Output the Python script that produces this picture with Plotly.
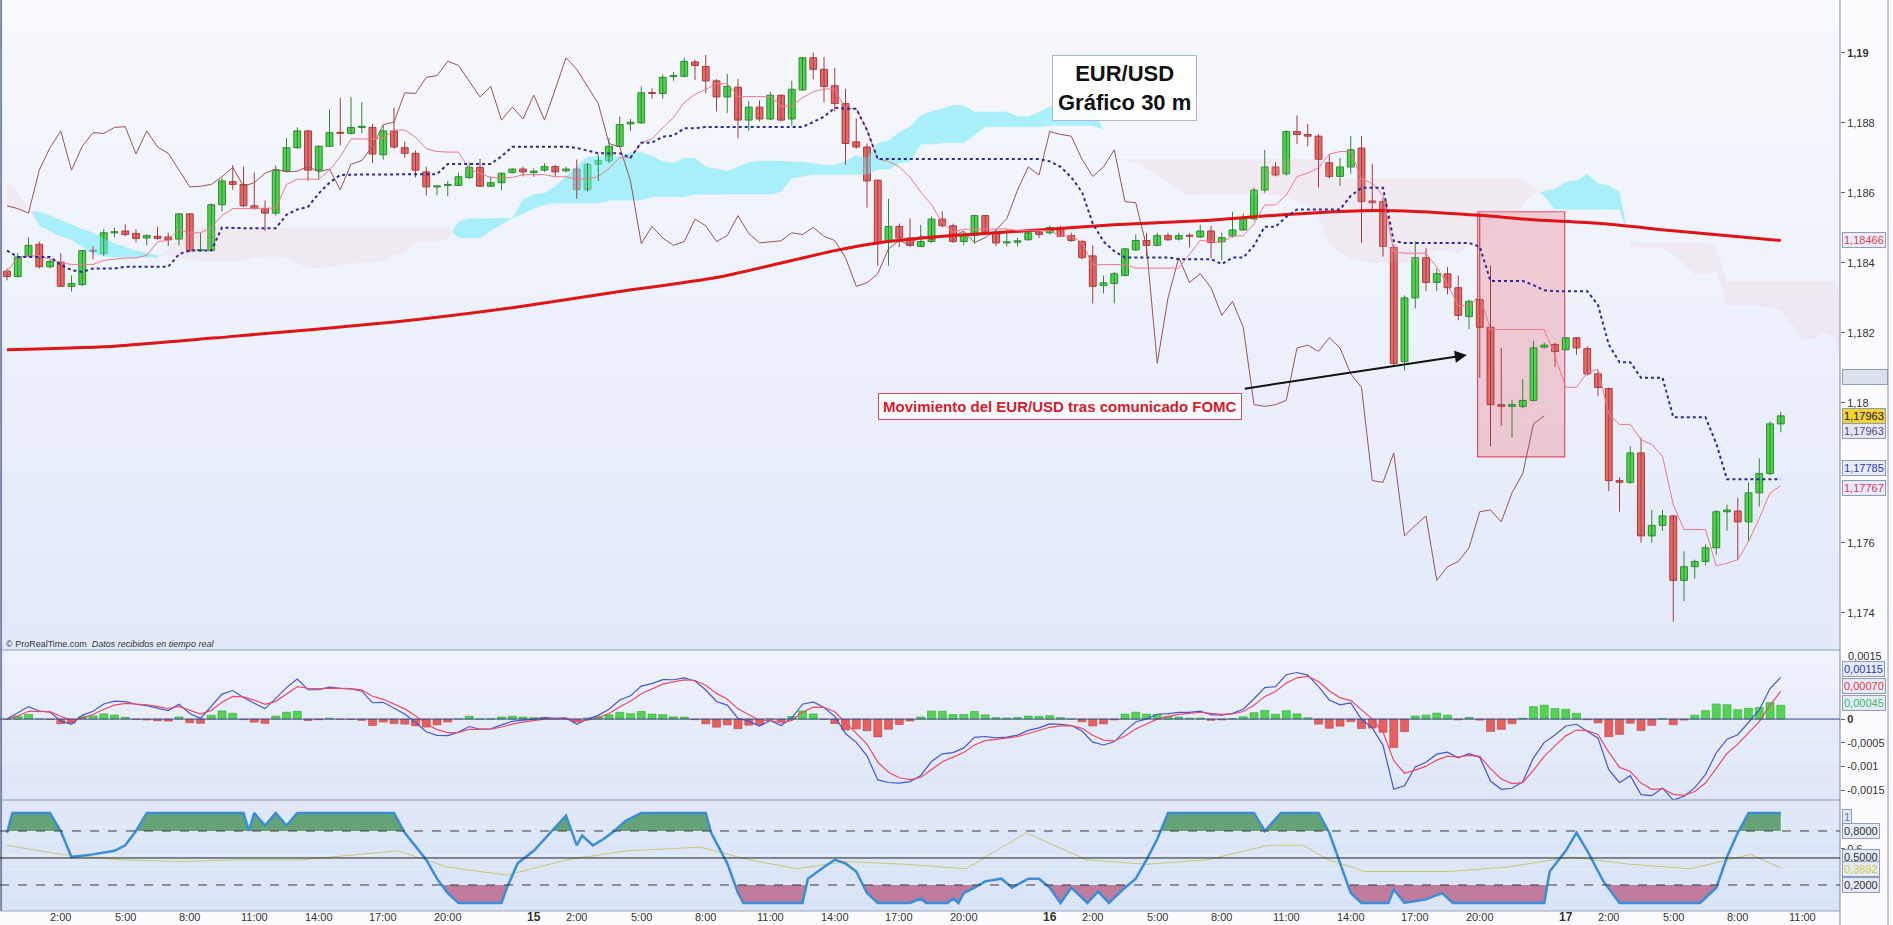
import numpy as np
import pandas as pd
import plotly.graph_objects as go

# ---------------- data (EUR/USD, 30 min candles) ----------------
T0 = pd.Timestamp("2020-09-13 23:30")
STEP = pd.Timedelta(minutes=30)

opens = [1.18376,1.18361,1.18420,1.18453,1.18389,1.18402,1.18333,1.18338,1.18435,1.18427,
1.18486,1.18491,1.18484,1.18471,1.18476,1.18474,1.18468,1.18540,1.18435,1.18435,
1.18566,1.18632,1.18624,1.18563,1.18555,1.18542,1.18662,1.18729,1.18777,1.18665,
1.18733,1.18772,1.18770,1.18787,1.18787,1.18709,1.18777,1.18729,1.18713,1.18660,
1.18617,1.18621,1.18621,1.18644,1.18673,1.18619,1.18629,1.18658,1.18668,1.18658,
1.18665,1.18675,1.18663,1.18668,1.18609,1.18682,1.18692,1.18733,1.18797,1.18800,
1.18886,1.18884,1.18932,1.18933,1.18974,1.18961,1.18920,1.18874,1.18902,1.18808,
1.18845,1.18811,1.18879,1.18811,1.18894,1.18986,1.18953,1.18906,1.18855,1.18746,
1.18731,1.18636,1.18461,1.18504,1.18471,1.18447,1.18461,1.18525,1.18506,1.18461,
1.18478,1.18535,1.18486,1.18457,1.18459,1.18466,1.18488,1.18486,1.18501,1.18478,
1.18461,1.18420,1.18335,1.18341,1.18364,1.18437,1.18464,1.18450,1.18478,1.18468,
1.18478,1.18474,1.18491,1.18460,1.18477,1.18494,1.18526,1.18608,1.18674,1.18654,
1.18775,1.18767,1.18762,1.18686,1.18647,1.18674,1.18728,1.18577,1.18575,1.18444,
1.18118,1.18300,1.18415,1.18344,1.18369,1.18329,1.18247,1.18295,1.18216,1.17995,
1.17990,1.17990,1.18007,1.18159,1.18167,1.18152,1.18186,1.18155,1.18083,1.18041,
1.17778,1.17773,1.17857,1.17620,1.17650,1.17677,1.17493,1.17532,1.17547,1.17586,
1.17689,1.17691,1.17660,1.17743,1.17798,1.17940]

highs = [1.18384,1.18428,1.18473,1.18461,1.18410,1.18428,1.18364,1.18437,1.18447,1.18496,
1.18501,1.18510,1.18496,1.18481,1.18503,1.18486,1.18542,1.18542,1.18486,1.18570,
1.18641,1.18680,1.18675,1.18658,1.18578,1.18678,1.18757,1.18787,1.18780,1.18736,
1.18838,1.18872,1.18874,1.18859,1.18797,1.18792,1.18843,1.18746,1.18721,1.18675,
1.18622,1.18634,1.18658,1.18687,1.18697,1.18647,1.18658,1.18670,1.18675,1.18670,
1.18685,1.18680,1.18675,1.18695,1.18685,1.18710,1.18757,1.18818,1.18811,1.18904,
1.18899,1.18938,1.18945,1.18986,1.18981,1.18994,1.18925,1.18940,1.18925,1.18862,
1.18864,1.18889,1.18881,1.18920,1.18988,1.19001,1.18988,1.18957,1.18897,1.18813,
1.18741,1.18638,1.18583,1.18512,1.18527,1.18509,1.18532,1.18547,1.18512,1.18488,
1.18537,1.18537,1.18496,1.18496,1.18471,1.18488,1.18494,1.18506,1.18506,1.18486,
1.18466,1.18450,1.18364,1.18374,1.18442,1.18481,1.18486,1.18486,1.18486,1.18486,
1.18486,1.18509,1.18506,1.18487,1.18546,1.18541,1.18615,1.18723,1.18688,1.18779,
1.18821,1.18797,1.18767,1.18710,1.18700,1.18762,1.18762,1.18683,1.18585,1.18452,
1.18307,1.18462,1.18442,1.18383,1.18388,1.18364,1.18295,1.18543,1.18393,1.18157,
1.18009,1.18068,1.18177,1.18172,1.18172,1.18188,1.18188,1.18162,1.18093,1.18044,
1.17788,1.17876,1.17901,1.17694,1.17694,1.17680,1.17576,1.17552,1.17596,1.17694,
1.17709,1.17729,1.17773,1.17842,1.17948,1.17975]

lows = [1.18350,1.18358,1.18417,1.18384,1.18384,1.18331,1.18318,1.18333,1.18410,1.18420,
1.18473,1.18476,1.18459,1.18450,1.18466,1.18448,1.18450,1.18430,1.18432,1.18433,
1.18547,1.18609,1.18560,1.18552,1.18491,1.18535,1.18660,1.18726,1.18634,1.18639,
1.18731,1.18736,1.18767,1.18770,1.18685,1.18695,1.18726,1.18700,1.18644,1.18593,
1.18593,1.18590,1.18619,1.18639,1.18617,1.18617,1.18607,1.18655,1.18647,1.18646,
1.18660,1.18647,1.18658,1.18583,1.18604,1.18634,1.18685,1.18731,1.18777,1.18797,
1.18869,1.18869,1.18920,1.18930,1.18923,1.18884,1.18833,1.18828,1.18756,1.18777,
1.18804,1.18808,1.18804,1.18792,1.18892,1.18925,1.18859,1.18833,1.18680,1.18726,
1.18558,1.18392,1.18392,1.18445,1.18445,1.18445,1.18457,1.18501,1.18457,1.18450,
1.18455,1.18481,1.18447,1.18447,1.18447,1.18464,1.18471,1.18481,1.18474,1.18460,
1.18410,1.18284,1.18313,1.18284,1.18362,1.18435,1.18420,1.18447,1.18463,1.18464,
1.18445,1.18471,1.18413,1.18408,1.18472,1.18492,1.18521,1.18600,1.18647,1.18649,
1.18740,1.18733,1.18615,1.18641,1.18620,1.18654,1.18457,1.18551,1.18418,1.18103,
1.18093,1.18270,1.18319,1.18319,1.18310,1.18236,1.18211,1.18071,1.17876,1.17935,
1.17901,1.17985,1.18004,1.18155,1.18103,1.18149,1.18137,1.18078,1.18019,1.17748,
1.17689,1.17768,1.17601,1.17601,1.17635,1.17375,1.17434,1.17498,1.17537,1.17566,
1.17635,1.17552,1.17606,1.17704,1.17793,1.17916]

closes = [1.18361,1.18417,1.18450,1.18389,1.18404,1.18333,1.18341,1.18435,1.18433,1.18486,
1.18488,1.18481,1.18470,1.18478,1.18470,1.18466,1.18540,1.18435,1.18437,1.18566,
1.18634,1.18624,1.18563,1.18555,1.18542,1.18665,1.18729,1.18777,1.18665,1.18733,
1.18772,1.18770,1.18787,1.18789,1.18711,1.18777,1.18731,1.18713,1.18665,1.18617,
1.18619,1.18624,1.18646,1.18673,1.18619,1.18629,1.18656,1.18668,1.18660,1.18662,
1.18675,1.18660,1.18668,1.18609,1.18682,1.18692,1.18733,1.18795,1.18802,1.18886,
1.18884,1.18930,1.18935,1.18976,1.18964,1.18920,1.18874,1.18904,1.18808,1.18845,
1.18811,1.18879,1.18808,1.18896,1.18986,1.18953,1.18904,1.18855,1.18741,1.18731,
1.18634,1.18455,1.18504,1.18471,1.18450,1.18461,1.18525,1.18506,1.18461,1.18478,
1.18535,1.18484,1.18457,1.18459,1.18463,1.18486,1.18481,1.18501,1.18476,1.18464,
1.18415,1.18333,1.18343,1.18369,1.18440,1.18464,1.18450,1.18478,1.18466,1.18478,
1.18476,1.18491,1.18458,1.18472,1.18494,1.18526,1.18608,1.18674,1.18651,1.18775,
1.18767,1.18762,1.18696,1.18647,1.18674,1.18723,1.18575,1.18572,1.18447,1.18113,
1.18300,1.18415,1.18344,1.18369,1.18329,1.18250,1.18290,1.18216,1.17995,1.17990,
1.17995,1.18007,1.18157,1.18165,1.18147,1.18186,1.18157,1.18083,1.18044,1.17778,
1.17773,1.17857,1.17620,1.17650,1.17677,1.17493,1.17532,1.17547,1.17586,1.17689,
1.17694,1.17660,1.17743,1.17798,1.17940,1.17963]

# long moving average (at candle indices)
ma_idx = [0, 10, 21, 36, 47, 57, 66, 77, 81, 88, 96, 103, 112, 118, 126, 131, 137, 142, 148, 155, 165]
ma_val = [1.18152, 1.18162, 1.18190, 1.18231, 1.18272, 1.18318, 1.18358, 1.18435, 1.18457, 1.18478,
          1.18494, 1.18509, 1.18522, 1.18536, 1.18549, 1.18547, 1.18536, 1.18523, 1.18513, 1.18492, 1.18464]

# Ichimoku values before enough history is on screen
tenkan_early = [1.18374, 1.18417, 1.18420, 1.18420, 1.18410, 1.18400]
kijun_early = [1.18435, 1.18417, 1.18417, 1.18417, 1.18417, 1.18395, 1.18379, 1.18374, 1.18384, 1.18384,
               1.18384, 1.18389, 1.18389, 1.18389, 1.18389, 1.18389, 1.18425, 1.18435, 1.18435, 1.18435, 1.18501]
span_a_early = [1.18558, 1.18552, 1.18547, 1.18547, 1.18535, 1.18522, 1.18508, 1.18497, 1.18486, 1.18470,
                1.18455, 1.18445, 1.18435, 1.18428, 1.18420, 1.18420, 1.18415, 1.18410, 1.18405, 1.18404,
                1.18404, 1.18404]
span_b_early = ([1.18634, 1.18600, 1.18560, 1.18506, 1.18490, 1.18475, 1.18466, 1.18445, 1.18425, 1.18418]
                + [1.18415] * 5 + [1.18440, 1.18470, 1.18490] + [1.18501] * 24 + [1.18471] * 3
                + [1.18490, 1.18510, 1.18527, 1.18540, 1.18555, 1.18565] + [1.18570] * 5
                + [1.18578] * 4 + [1.18588] * 4 + [1.18595])
TENKAN_N, KIJUN_N, SPANB_N, SHIFT = 7, 22, 44, 22

# MACD line / signal values (used to pick the EMA lengths)
macd_ref_idx = [0, 10.6, 21.8, 28.5, 36.4, 46.5, 55.5, 63.4, 71.2, 80.2, 84.7, 94.8, 106, 115, 120.6,
                128.5, 136.4, 139.7, 146.5, 156, 165]
macd_ref_val = [0, 0.00023, 0.00033, 0.00064, -0.00008, -0.00054, 0.00018, 0.00069, 0.00005, -0.00097,
                -0.00156, -0.00059, 0.00018, 0.00048, 0.0012, -0.00008, -0.00135, -0.0015, -0.00038,
                -0.0013, 0.00115]
macd_ref_w = [1] * 20 + [6]
signal_ref_idx = [28.5, 46.5, 64, 85.8, 121.8, 140.9, 148.7, 156.6, 165]
signal_ref_val = [0.00051, -0.00054, 0.00066, -0.00156, 0.00112, -0.00148, -0.00059, -0.00122, 0.00070]
signal_ref_w = [1] * 8 + [6]

# oscillator (blue) and slow line (yellow)
stoch_idx = [0,0.5,4,5,6,8,10,11,12,13,22,22.5,23,24,25,26,27,36,37,39,40,41,42,46,46.5,47.5,49,50.5,52,53,
             53.5,54.5,55.5,56.5,57.5,59,65,65.5,67,68,68.5,74,74.5,76,77,78,79,80,81,84,85,85.5,87.5,88,88.5,
             89,90,91,92.5,93.5,95,96,97,98,99,100.5,101.5,102.5,104,105,106,107,108,116,117,118.5,122,123,124,
             125,126,128.5,129,130,132,133.5,134.5,143,143.5,145,146,147,148.5,150,157.5,159,160,161,162,165]
stoch_val = [0.78,1,1,0.80,0.51,0.54,0.58,0.64,0.80,1,1,0.80,1,0.86,1,0.86,1,1,0.78,0.48,0.27,0.11,0,0,0.17,
             0.44,0.58,0.78,0.97,0.64,0.75,0.64,0.71,0.80,0.91,1,1,0.78,0.44,0.11,0,0,0.27,0.40,0.48,0.44,0.35,
             0.11,0,0,0.05,0,0,0.05,0,0.11,0.17,0.24,0.27,0.17,0.27,0.27,0.17,0,0.17,0,0.13,0,0.17,0.27,0.48,
             0.71,1,1,0.80,1,1,0.78,0.44,0.11,0,0,0.15,0,0.04,0.11,0,0,0.35,0.58,0.78,0.58,0.24,0,0,0.17,0.51,
             0.78,1,1]
slow_idx = [0,5,10.6,16.2,21.8,27.4,36.4,40.9,46.5,52.1,57.7,64.5,69,73.5,78,83.6,89.2,94.8,100.4,106,
            111.7,117.3,120.6,122.9,126.3,134.1,139.7,145.4,151,156.6,162.2,165]
slow_val = [0.64,0.54,0.48,0.46,0.48,0.48,0.58,0.40,0.31,0.48,0.58,0.62,0.48,0.38,0.46,0.43,0.38,0.78,0.48,
            0.43,0.48,0.64,0.64,0.48,0.35,0.35,0.40,0.51,0.43,0.38,0.54,0.3892]

# ---------------- derived series ----------------
n = len(closes)
O = np.array(opens); H = np.array(highs); L = np.array(lows); C = np.array(closes)
times = [T0 + STEP * k for k in range(n)]
STEP_MS = 30 * 60 * 1000


def tt(v):
    return [T0 + STEP * float(x) for x in v]


def mid(period, i):
    a = max(0, i - period + 1)
    return (H[a:i + 1].max() + L[a:i + 1].min()) / 2


tenkan = [tenkan_early[i] if i < len(tenkan_early) else mid(TENKAN_N, i) for i in range(n)]
kijun = [kijun_early[i] if i < len(kijun_early) else mid(KIJUN_N, i) for i in range(n)]
span_a = list(span_a_early) + [(tenkan[i] + kijun[i]) / 2 for i in range(n)]
span_b = list(span_b_early) + [mid(SPANB_N, i) for i in range(SPANB_N - 1, n)]
span_x = list(range(len(span_a)))
chikou_x = list(range(n - SHIFT))
chikou = closes[SHIFT:]


def ema(v, p):
    a = 2.0 / (p + 1); out = [v[0]]
    for x in v[1:]:
        out.append(out[-1] + a * (x - out[-1]))
    return np.array(out)


# choose EMA lengths that reproduce the MACD drawn on the chart
idx_all = np.arange(n)
mw = np.array(macd_ref_w, float); sw = np.array(signal_ref_w, float)
best = None
for f in range(2, 16):
    for s in range(f + 1, 41):
        m = ema(C, f) - ema(C, s)
        err = np.sum(mw * (np.interp(macd_ref_idx, idx_all, m) - np.array(macd_ref_val)) ** 2)
        if best is None or err < best[0]:
            best = (err, f, s)
_, FAST, SLOW = best
macd = ema(C, FAST) - ema(C, SLOW)
best_sg = None
for sg in range(2, 16):
    sgl = ema(macd, sg)
    err = np.sum(sw * (np.interp(signal_ref_idx, idx_all, sgl) - np.array(signal_ref_val)) ** 2)
    if best_sg is None or err < best_sg[0]:
        best_sg = (err, sg)
signal = ema(macd, best_sg[1])
hist = macd - signal

# ---------------- figure geometry ----------------
W, Hh = 1893, 925
PW, PH = 1840, 911          # plot area (pixels)
def py(fy):                 # pixel row -> paper y
    return 1 - fy / PH

FONT = "Arial, Liberation Sans, sans-serif"
fig = go.Figure()

# cloud
def cloud_runs(xs, a, b):
    out = []
    cx, ca, cb = [xs[0]], [a[0]], [b[0]]
    s = a[0] >= b[0]
    for k in range(1, len(xs)):
        sk = a[k] >= b[k]
        if sk != s:
            d0 = a[k-1] - b[k-1]; d1 = a[k] - b[k]
            f = d0 / (d0 - d1) if d0 != d1 else 0.5
            xc = xs[k-1] + f * (xs[k] - xs[k-1]); yc = a[k-1] + f * (a[k] - a[k-1])
            cx.append(xc); ca.append(yc); cb.append(yc)
            out.append((s, cx, ca, cb))
            cx, ca, cb = [xc], [yc], [yc]
            s = sk
        cx.append(xs[k]); ca.append(a[k]); cb.append(b[k])
    out.append((s, cx, ca, cb))
    return out

for upc, cx, ca, cb in cloud_runs(span_x, span_a, span_b):
    fig.add_trace(go.Scatter(x=tt(cx + cx[::-1]), y=ca + cb[::-1], fill="toself", mode="lines",
                             line=dict(width=0),
                             fillcolor="rgba(110,235,250,0.55)" if upc else "rgba(245,185,195,0.17)",
                             hoverinfo="skip", xaxis="x", yaxis="y"))

fig.add_trace(go.Scatter(x=tt(chikou_x), y=chikou, mode="lines", line=dict(color="#a05252", width=1),
                         xaxis="x", yaxis="y"))

# candles: wicks then bodies
up = C >= O
for mask, wcol in [(up, "#2f8a2f"), (~up, "#a83c3c")]:
    wx, wy = [], []
    for k in np.where(mask)[0]:
        wx += [times[k], times[k], None]; wy += [L[k], H[k], None]
    fig.add_trace(go.Scatter(x=wx, y=wy, mode="lines", line=dict(color=wcol, width=1), xaxis="x", yaxis="y"))
for mask, wcol, fcol in [(up, "#2f8a2f", "#4fd24f"), (~up, "#a83c3c", "#e46a6a")]:
    ks = np.where(mask)[0]
    lo = np.minimum(O[ks], C[ks]); hi = np.maximum(O[ks], C[ks])
    fig.add_trace(go.Bar(x=[times[k] for k in ks], y=np.maximum(hi - lo, 0.00003), base=lo,
                         width=0.64 * STEP_MS, marker=dict(color=fcol, line=dict(color=wcol, width=1)),
                         xaxis="x", yaxis="y"))

fig.add_trace(go.Scatter(x=tt(ma_idx), y=ma_val, mode="lines",
                         line=dict(color="#e01414", width=3, shape="spline", smoothing=0.6),
                         xaxis="x", yaxis="y"))
fig.add_trace(go.Scatter(x=times, y=tenkan, mode="lines", line=dict(color="#f07888", width=1),
                         xaxis="x", yaxis="y"))
fig.add_trace(go.Scatter(x=times, y=kijun, mode="lines", line=dict(color="#2a2a9c", width=2, dash="dot"),
                         xaxis="x", yaxis="y"))

# MACD panel
fig.add_trace(go.Bar(x=times, y=hist, width=0.75 * STEP_MS,
                     marker=dict(color=["#52d352" if h >= 0 else "#e46060" for h in hist],
                                 line=dict(color=["#2f9a2f" if h >= 0 else "#b03c3c" for h in hist], width=0.5)),
                     xaxis="x2", yaxis="y2"))
fig.add_trace(go.Scatter(x=times, y=macd, mode="lines", line=dict(color="#4656d0", width=1.2), xaxis="x2", yaxis="y2"))
fig.add_trace(go.Scatter(x=times, y=signal, mode="lines", line=dict(color="#ee4a68", width=1.2), xaxis="x2", yaxis="y2"))

# oscillator panel
def clip_poly(xs, ys, thr, above):
    ox, oy = [], []
    for k in range(len(xs)):
        if k > 0:
            y0, y1 = ys[k-1], ys[k]
            if (y0 - thr) * (y1 - thr) < 0:
                f = (thr - y0) / (y1 - y0)
                ox.append(xs[k-1] + f * (xs[k] - xs[k-1])); oy.append(thr)
        ox.append(xs[k]); oy.append(max(ys[k], thr) if above else min(ys[k], thr))
    return ox, oy

for thr, above, col in [(0.8, True, "rgba(80,150,95,0.85)"), (0.2, False, "rgba(185,105,140,0.85)")]:
    ox, oy = clip_poly(stoch_idx, stoch_val, thr, above)
    fig.add_trace(go.Scatter(x=tt(ox), y=[thr] * len(ox), mode="lines", line=dict(width=0), xaxis="x3", yaxis="y3"))
    fig.add_trace(go.Scatter(x=tt(ox), y=oy, mode="lines", line=dict(width=0), fill="tonexty", fillcolor=col,
                             xaxis="x3", yaxis="y3"))
fig.add_trace(go.Scatter(x=tt(slow_idx), y=slow_val, mode="lines", line=dict(color="#c9c870", width=1), xaxis="x3", yaxis="y3"))
fig.add_trace(go.Scatter(x=tt(stoch_idx), y=stoch_val, mode="lines", line=dict(color="#3a8ed8", width=2.5), xaxis="x3", yaxis="y3"))

# ---------------- axes ----------------
x_range = [T0 + STEP * (-0.651), T0 + STEP * 170.51]
ax_common = dict(range=x_range, showgrid=False, zeroline=False, showline=False, fixedrange=True,
                 showticklabels=False, ticks="")
fig.update_layout(
    xaxis=dict(ax_common, anchor="y", rangeslider=dict(visible=False), matches="x3"),
    xaxis2=dict(ax_common, anchor="y2", matches="x3"),
    xaxis3=dict(ax_common, anchor="y3"),
)
yfont = dict(size=11, color="#333", family=FONT)
p_ticks = [1.174, 1.176, 1.18, 1.182, 1.184, 1.186, 1.188, 1.19]
p_text = ["1,174", "1,176", "1,18", "1,182", "1,184", "1,186", "1,188", "<b>1,19</b>"]
fig.update_layout(
    yaxis=dict(domain=[1 - 650 / PH, 1], range=[1.17294, 1.19151], side="right", anchor="x",
               tickvals=p_ticks, ticktext=p_text, ticks="outside", ticklen=4, tickcolor="#666",
               tickfont=yfont, showgrid=False, zeroline=False, fixedrange=True),
    yaxis2=dict(domain=[1 - 800 / PH, 1 - 650 / PH], range=[-0.00171, 0.00146], side="right", anchor="x2",
                tickvals=[-0.0015, -0.001, -0.0005, 0], ticktext=["-0,0015", "-0,001", "-0,0005", "<b>0</b>"],
                ticks="outside", ticklen=4, tickcolor="#666", tickfont=yfont, showgrid=False, zeroline=False,
                fixedrange=True),
    yaxis3=dict(domain=[0, 1 - 800 / PH], range=[-0.089, 1.144], side="right", anchor="x3",
                tickvals=[0.6], ticktext=["0,6"], ticks="outside", ticklen=4, tickcolor="#666",
                tickfont=yfont, showgrid=False, zeroline=False, fixedrange=True),
)

# ---------------- background & guide lines ----------------
shapes = []
def bands(fy0, fy1, c0, c1, nb=26):
    for k in range(nb):
        a = fy0 + (fy1 - fy0) * k / nb; b = fy0 + (fy1 - fy0) * (k + 1) / nb
        t = (k + 0.5) / nb
        col = tuple(int(round(c0[m] + (c1[m] - c0[m]) * t)) for m in range(3))
        shapes.append(dict(type="rect", xref="paper", yref="paper", x0=0, x1=1, y0=py(b), y1=py(a),
                           fillcolor="rgb(%d,%d,%d)" % col, line=dict(width=0), layer="below"))
bands(0, 650, (248, 249, 253), (226, 233, 249))
bands(650, 800, (238, 242, 251), (222, 230, 247), 12)
bands(800, 911, (224, 232, 248), (218, 228, 247), 8)

shapes.append(dict(type="rect", xref="x", yref="y", x0=T0 + STEP * 136.8, x1=T0 + STEP * 144.9,
                   y0=1.17846, y1=1.18546, fillcolor="rgba(240,120,135,0.33)",
                   line=dict(color="#df5262", width=1.2), layer="below"))
for fy in [650, 800]:
    shapes.append(dict(type="line", xref="paper", yref="paper", x0=0, x1=1, y0=py(fy), y1=py(fy),
                       line=dict(color="#8c9ab2", width=1.2)))
shapes.append(dict(type="line", xref="paper", yref="paper", x0=1, x1=1, y0=py(925), y1=1,
                   line=dict(color="#8c9ab2", width=1.2)))
shapes.append(dict(type="line", xref="paper", yref="paper", x0=1888 / PW, x1=1888 / PW, y0=py(925), y1=1,
                   line=dict(color="#8c9ab2", width=1)))
shapes.append(dict(type="line", xref="paper", yref="paper", x0=0.0006, x1=0.0006, y0=0, y1=1,
                   line=dict(color="#7a88a6", width=2)))
shapes.append(dict(type="line", xref="paper", yref="paper", x0=0, x1=1, y0=py(911), y1=py(911),
                   line=dict(color="#9aa8c0", width=1)))
shapes.append(dict(type="line", xref="paper", yref="y2", x0=0, x1=1, y0=0, y1=0, line=dict(color="#3c4a8a", width=1)))
for lv, dash, col in [(0.8, "dash", "#3a3a3a"), (0.5, "solid", "#222"), (0.2, "dash", "#3a3a3a")]:
    shapes.append(dict(type="line", xref="paper", yref="y3", x0=0, x1=1, y0=lv, y1=lv,
                       line=dict(color=col, width=1, dash=dash)))

# ---------------- annotations ----------------
ann = []
for d in [14, 15, 16, 17]:
    for h in [0, 2, 5, 8, 11, 14, 17, 20]:
        t = pd.Timestamp(2020, 9, d, h)
        if t > pd.Timestamp(2020, 9, 17, 11) or (h == 0 and d == 14):
            continue
        txt = "<b>%d</b>" % d if h == 0 else "%d:00" % h
        ann.append(dict(xref="x3", yref="paper", x=t, y=py(917), xanchor="center", yanchor="middle",
                        showarrow=False, text=txt, font=dict(size=12 if h == 0 else 11, color="#333", family=FONT)))

ann.append(dict(xref="paper", yref="paper", x=1124 / PW, y=py(88), xanchor="center", yanchor="middle",
                text="<b>EUR/USD</b><br><b>Gráfico 30 m</b>",
                showarrow=False, font=dict(size=22, color="#111", family=FONT), align="center",
                bgcolor="rgba(255,255,255,0.92)", bordercolor="#a9b9d2", borderwidth=1, borderpad=5))
ann.append(dict(xref="paper", yref="paper", x=1059.5 / PW, y=py(406.5), xanchor="center", yanchor="middle",
                text="<b>Movimiento del EUR/USD tras comunicado FOMC</b>", showarrow=False,
                font=dict(size=15, color="#d81c2c", family=FONT), bgcolor="rgba(250,251,255,0.95)",
                bordercolor="#d3485a", borderwidth=1, borderpad=4))
ann.append(dict(xref="x", yref="y", x=T0 + STEP * 135.8, y=1.18137, axref="x", ayref="y",
                ax=T0 + STEP * 115.0, ay=1.18040, text="", showarrow=True, arrowhead=2, arrowsize=1.2,
                arrowwidth=2, arrowcolor="#111"))
ann.append(dict(xref="paper", yref="paper", x=0.002, y=py(644), xanchor="left", yanchor="middle", showarrow=False,
                text="© ProRealTime.com  <i>Datos recibidos en tiempo real</i>", font=dict(size=9, color="#333", family=FONT)))
ann.append(dict(xref="paper", yref="paper", x=1, xshift=6, y=py(656), xanchor="left", yanchor="middle",
                showarrow=False, text="0,0015", font=yfont))

def rlabel(text, fy, color, bg, width=None):
    d = dict(xref="paper", yref="paper", x=1, xshift=2, y=py(fy), xanchor="left", yanchor="middle",
             showarrow=False, text=text, font=dict(size=11, color=color, family=FONT),
             bgcolor=bg, bordercolor="#8f9cb8", borderwidth=1, borderpad=1)
    if width:
        d["width"] = width
    ann.append(d)

rlabel("1,18466", 240, "#e04058", "#e7ebf7")
rlabel(" ", 377, "#333", "#d9e1ec", width=42)
rlabel("1,17963", 416, "#111", "#f2d22e")
rlabel("1,17963", 431, "#50507a", "#e3e5f3")
rlabel("1,17785", 468, "#2f34b8", "#e7ebf7")
rlabel("1,17767", 488, "#e0345a", "#e7ebf7")
rlabel("0,00115", 669, "#2f3cb8", "#e3e9f6")
rlabel("0,00070", 686, "#e23848", "#e3e9f6")
rlabel("0,00045", 703, "#42c062", "#e3e9f6")
rlabel("1", 817, "#3a8ed8", "#e3e9f6")
rlabel("0,8000", 831, "#333", "#e3e9f6")
rlabel("0,5000", 857, "#333", "#e3e9f6")
rlabel("0,3892", 869, "#cfcf3c", "#e3e9f6")
rlabel("0,2000", 885, "#333", "#e3e9f6")

fig.update_layout(width=W, height=Hh, margin=dict(l=0, r=W - PW, t=0, b=Hh - PH),
                  paper_bgcolor="#fcfcfe", plot_bgcolor="rgba(0,0,0,0)", showlegend=False,
                  shapes=shapes, annotations=ann, bargap=0, barmode="overlay", hovermode=False,
                  font=dict(family=FONT))
fig.write_html("out.html", config={"displayModeBar": False, "staticPlot": True},
               post_script="document.body.style.margin='0';document.body.style.overflow='hidden';")
